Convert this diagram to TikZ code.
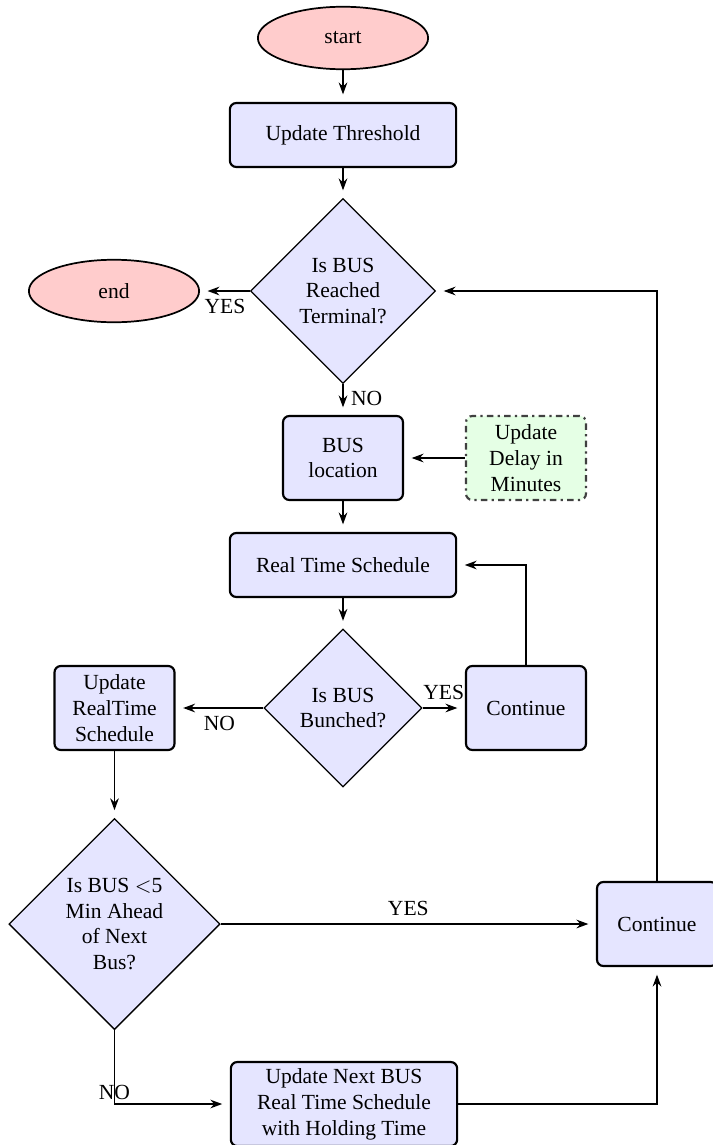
\documentclass[tikz,border=0pt]{standalone}
\usepackage{fontspec}
\setmainfont{Liberation Serif}
\usetikzlibrary{shapes.geometric, arrows.meta}

\begin{document}
\begin{tikzpicture}[x=0.464pt, y=-0.464pt,
  term/.style={ellipse, draw, thick, fill=red!20, minimum width=79pt, minimum height=29pt},
  proc/.style={rectangle, rounded corners=3pt, draw, line width=1pt, fill=blue!10, align=center,
    minimum width=55.7pt, minimum height=39pt, inner sep=2pt},
  wideproc/.style={proc, minimum width=105pt, minimum height=29.7pt},
  decide/.style={diamond, draw, semithick, fill=blue!10, align=center, inner sep=0pt, aspect=1},
  extra/.style={proc, fill=green!10, draw=black!75, dash dot},
  flow/.style={-{Stealth[length=5.5pt, width=4pt]}, thick, shorten >=3.5pt}]
  % Page frame
  \useasboundingbox (0,0) rectangle (712,1145);
  % Terminals
  \node[term] (start) at (343,38) {start};
  \node[term] (end) at (114,291) {end};
  % Main column
  \node[wideproc] (thresh) at (343,135) {Update Threshold};
  \node[decide, minimum size=85.8pt] (reached) at (343,291) {Is BUS\\Reached\\Terminal?};
  \node[proc] (loc) at (343,458) {BUS\\location};
  \node[extra] (delay) at (526,458) {Update\\Delay in\\Minutes};
  \node[wideproc] (rts) at (343,565) {Real Time Schedule};
  \node[decide, minimum size=73.3pt] (bunched) at (343,708) {Is BUS\\Bunched?};
  \node[proc] (cont1) at (526,708) {Continue};
  % Left branch
  \node[proc] (updrts) at (114.5,708) {Update\\RealTime\\Schedule};
  \node[decide, minimum size=98pt] (ahead) at (114.5,924) {Is BUS $<$5\\Min Ahead\\of Next\\Bus?};
  \node[wideproc, minimum height=39pt] (hold) at (344,1104) {Update Next BUS\\Real Time Schedule\\with Holding Time};
  \node[proc] (cont2) at (657,924) {Continue};
  % Straight links
  \foreach \a/\b in {start/thresh, thresh/reached, loc/rts, rts/bunched, updrts/ahead, delay/loc}
    \draw[flow] (\a) -- (\b);
  % Decisions
  \draw[flow] (reached) -- node[below] {YES} (end);
  \draw[flow] (reached) -- node[right, pos=0.45] {NO} (loc);
  \draw[flow] (bunched) -- node[above] {YES} (cont1);
  \draw[flow] (bunched) -- node[below] {NO} (updrts);
  \draw[flow] (ahead) -- node[above] {YES} (cont2);
  \draw[flow] (ahead) |- node[pos=0.42] {NO} (hold);
  % Loops back
  \draw[flow] (cont1) |- (rts);
  \draw[flow] (hold) -| (cont2);
  \draw[flow] (cont2) |- (reached);
\end{tikzpicture}
\end{document}
